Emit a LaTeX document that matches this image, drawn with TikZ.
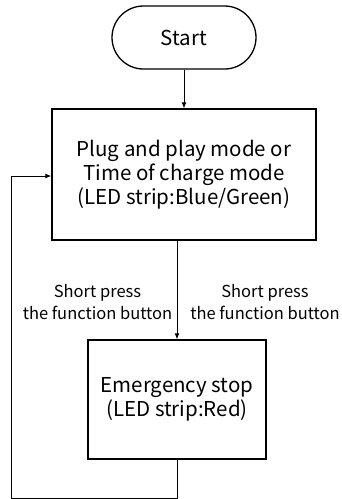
\documentclass[tikz,border=0pt]{standalone}
\usepackage{fontspec}
\setmainfont{Noto Sans CJK SC}
\usetikzlibrary{arrows.meta,shapes.misc}
\begin{document}
\begin{tikzpicture}[x=1pt,y=-1pt,
  every node/.style={font=\fontsize{20.5}{24}\selectfont, align=center, inner sep=0pt},
  box/.style={draw, line width=1.3pt},
  lbl/.style={font=\fontsize{16.5}{22}\selectfont},
  conn/.style={line width=1pt, -{Latex[length=6pt,width=5pt]}},
  plain/.style={line width=1pt}]
\useasboundingbox (0,0) rectangle (342,499);
\node[draw, line width=1.3pt, rounded rectangle, minimum width=144pt, minimum height=63pt] (start) at (184,37.5) {Start};
\node[box, minimum width=264pt, minimum height=131pt] (mode) at (184,174.5) {Plug and play mode or\\Time of charge mode\\(LED strip:Blue/Green)};
\node[box, minimum width=178pt, minimum height=119pt] (stop) at (177,399.5) {Emergency stop\\(LED strip:Red)};
\node[lbl] (l1) at (97.5,302) {Short press\\the function button};
\node[lbl] (l2) at (265,302) {Short press\\the function button};
\coordinate (c1) at (177,498);
\coordinate (c2) at (11.7,498);
\coordinate (c3) at (11.7,176);
\draw[conn] (start.south) -- (mode.north);
\draw[conn] (mode.south -| stop.north) -- (stop.north);
\draw[conn] (stop.south) -- (c1) -- (c2) -- (c3) -- (c3 -| mode.west);
\end{tikzpicture}
\end{document}
